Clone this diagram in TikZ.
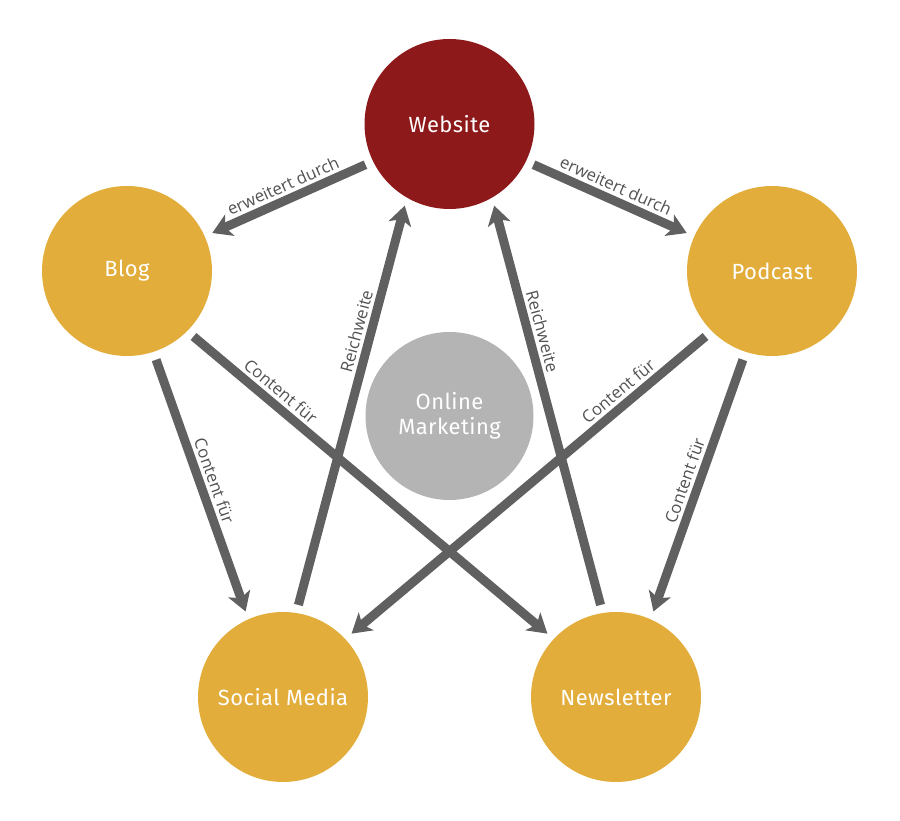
\documentclass[tikz,border=0pt]{standalone}
\usepackage{fontspec}
\setmainfont{Fira Sans}[LetterSpace=2]
\newfontfamily\linkfont{Open Sans}
\usetikzlibrary{arrows.meta}
\definecolor{webred}{HTML}{8E191B}
\definecolor{gold}{HTML}{E2AD3B}
\definecolor{hubgray}{HTML}{B4B4B4}
\definecolor{arrowgray}{HTML}{606060}
\tikzset{
    circ/.style={circle, minimum size=3.4cm, inner sep=0pt, text=white,
        font=\fontsize{12.5}{14.5}\selectfont, align=center},
    topic/.style={circ, fill=gold},
    link/.style={arrowgray, line width=0.18cm,
        -{Stealth[length=0.38cm,width=0.46cm,inset=0.1cm]},
        shorten <=0.16cm, shorten >=0.16cm},
    linklabel/.style={sloped, above, inner sep=2pt, text=arrowgray!85!black,
        font=\linkfont\fontsize{9.5}{11}\selectfont}
}

\begin{document}
\begin{tikzpicture}
    \useasboundingbox (0,0) rectangle (18,16.42);
    % circles
    \node[circ, fill=webred] (web) at (8.99,13.94) {Website};
    \node[topic] (blog) at (2.54,11.0) {Blog};
    \node[topic] (pod) at (15.44,11.0) {Podcast};
    \node[topic] (soc) at (5.66,2.48) {Social Media};
    \node[topic] (news) at (12.32,2.48) {Newsletter};
    \node[circ, fill=hubgray, minimum size=3.36cm] (om) at (8.99,8.10) {Online\\Marketing};

    % website extended by
    \draw[link] (web.206) -- (blog.24) node[linklabel, pos=.5] {erweitert durch};
    \draw[link] (web.334) -- (pod.156) node[linklabel, pos=.5] {erweitert durch};
    % content for
    \draw[link] (blog.288) -- (soc.114) node[linklabel, pos=.5] {Content für};
    \draw[link] (blog.315) -- (news.137) node[linklabel, pos=.23] {Content für};
    \draw[link] (pod.225) -- (soc.43) node[linklabel, pos=.23] {Content für};
    \draw[link] (pod.252) -- (news.66) node[linklabel, pos=.5] {Content für};
    % reach
    \draw[link] (soc.81) -- (web.240) node[linklabel, pos=.67] {Reichweite};
    \draw[link] (news.99) -- (web.300) node[linklabel, pos=.67] {Reichweite};
\end{tikzpicture}
\end{document}
